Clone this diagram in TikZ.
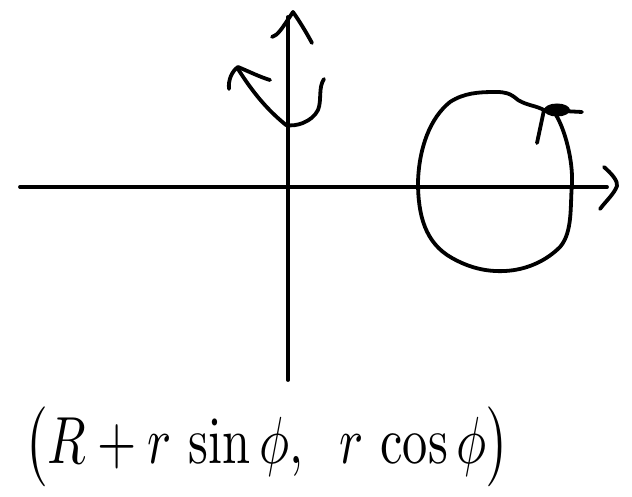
\documentclass[tikz,border=0pt]{standalone}
\usetikzlibrary{calc}
\begin{document}
\begin{tikzpicture}[x=1pt,y=-1pt,
  pen/.style={line width=3.8pt,line cap=round,line join=round,black},
  formula/.style={inner sep=0pt,anchor=center}]
\useasboundingbox[fill=white] (0,0) rectangle (632,497);
% axes
\coordinate (xs) at (20,187);
\coordinate (xe) at (607,187);
\coordinate (ys) at (288,380);
\coordinate (ye) at (288,17);
\draw[pen] (xs) -- (xe);
\draw[pen] (ys) -- (ye);
% x arrowhead (hand drawn chevron)
\draw[pen] (604,167) .. controls (612,174) and (618,181) .. (617,186)
  .. controls (614,194) and (606,201) .. (600,209);
% y arrowhead
\draw[pen] (272,37) .. controls (278,35) and (281,30) .. (293,12)
  .. controls (300,22) and (306,32) .. (312,43);
% rotation arrow around y axis
\draw[pen] (324,79) .. controls (318,88) and (322,100) .. (318,110)
  .. controls (312,122) and (296,127) .. (286,125)
  .. controls (270,112) and (255,96) .. (238,69);
\draw[pen] (229,89) .. controls (228,80) and (232,71) .. (238,67)
  .. controls (250,72) and (260,77) .. (270,80);
% torus cross-section circle
\draw[pen] (546,111) .. controls (535,105) and (528,106) .. (518,100)
  .. controls (510,93) and (505,92) .. (496,92)
  .. controls (478,92) and (464,93) .. (450,102)
  .. controls (430,118) and (419,148) .. (418,182)
  .. controls (418,215) and (425,243) .. (452,258)
  .. controls (468,267) and (485,272) .. (505,271)
  .. controls (525,270) and (545,262) .. (560,247)
  .. controls (573,232) and (570,205) .. (572,184)
  .. controls (573,160) and (565,130) .. (556,115);
% arrow mark on circle
\fill (557,110) ellipse [x radius=13pt, y radius=6.5pt];
\draw[pen] (537,143) -- (544,110) -- (582,112);
% formula
\node[formula] (f) at (267,447) {\resizebox*{485pt}{80pt}{$\bigl(R+r\,\sin\phi,\;\; r\,\cos\phi\bigr)$}};
\end{tikzpicture}
\end{document}
